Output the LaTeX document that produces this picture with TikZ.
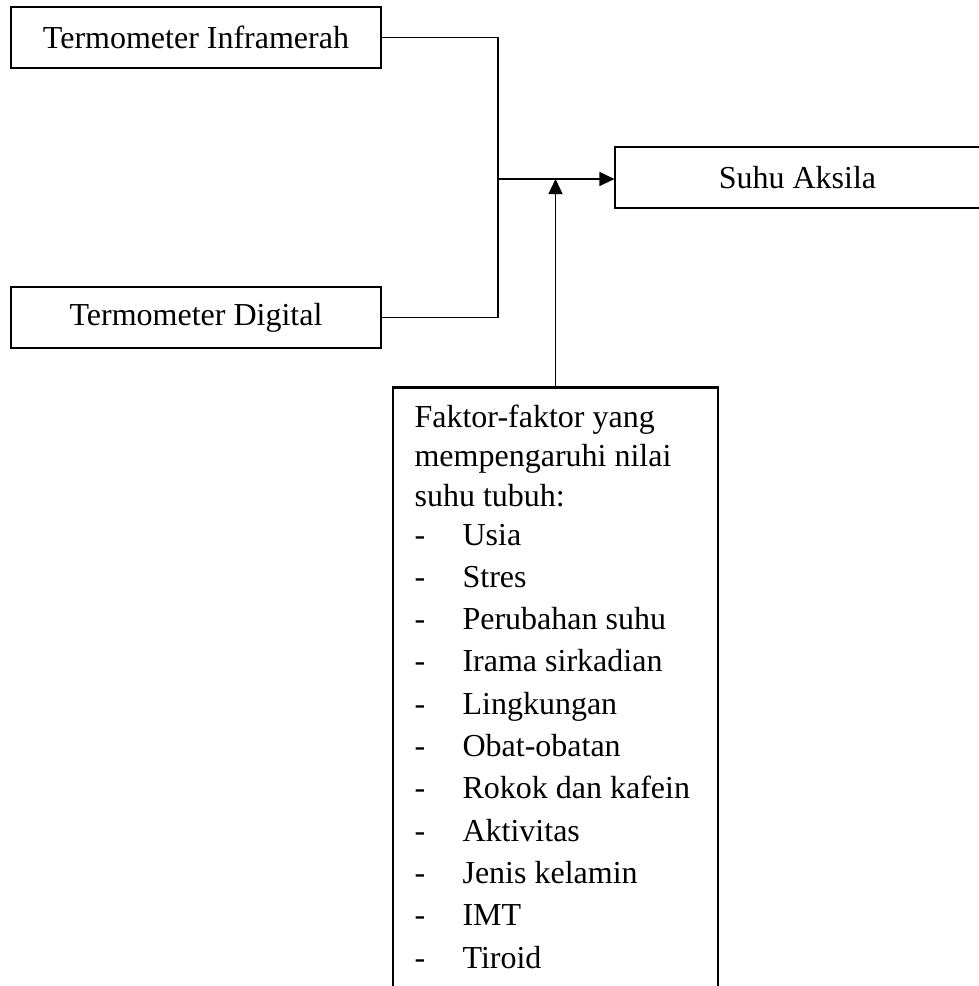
\documentclass[tikz,border=0pt]{standalone}
\usepackage{fontspec}
\setmainfont{Liberation Serif}
\usetikzlibrary{arrows.meta}

\begin{document}
\begin{tikzpicture}[x=0.5pt,y=-0.5pt,>={Triangle[length=7.5pt,width=7pt]},
        line width=0.6pt,font=\fontsize{16}{19}\selectfont,
        box/.style={draw,inner sep=0pt,minimum height=30.5pt},
        factbox/.style={draw,line width=1.3pt,minimum width=162.5pt,minimum height=307pt},
        txt/.style={anchor=base west,inner sep=0pt}]

  \useasboundingbox (0,0) rectangle (979,986);
  \clip (0,0) rectangle (979,986);

  \node[box,minimum width=185pt] (inf) at (196,37.5) {Termometer Inframerah};
  \node[box,minimum width=185pt] (dig) at (196,317.5) {Termometer Digital};
  \node[box,minimum width=182.5pt] (aks) at (797.5,177.5) {Suhu Aksila};
  \node[factbox,anchor=north] (fak) at (555.5,386) {};

  % teks di dalam kotak faktor
  \foreach \y/\t [count=\i] in {427/Faktor-faktor yang,466/mempengaruhi nilai,506/suhu tubuh:}
    \node[txt] (head\i) at (414,\y) {\t};
  \foreach \t [count=\i] in {Usia,Stres,Perubahan suhu,Irama sirkadian,Lingkungan,
      Obat-obatan,Rokok dan kafein,Aktivitas,Jenis kelamin,IMT,Tiroid}
    \node[txt] (item\i) at (414,{545+42.3*(\i-1)}) {\makebox[24pt][l]{-}\t};

  \coordinate (jn) at (498,179);

  \draw (inf.east) -| (jn);
  \draw (dig.east) -| (jn);
  \draw[->] (jn) -- (jn -| aks.west);
  \draw[->] (fak.north) -- (fak.north |- jn);

\end{tikzpicture}
\end{document}
